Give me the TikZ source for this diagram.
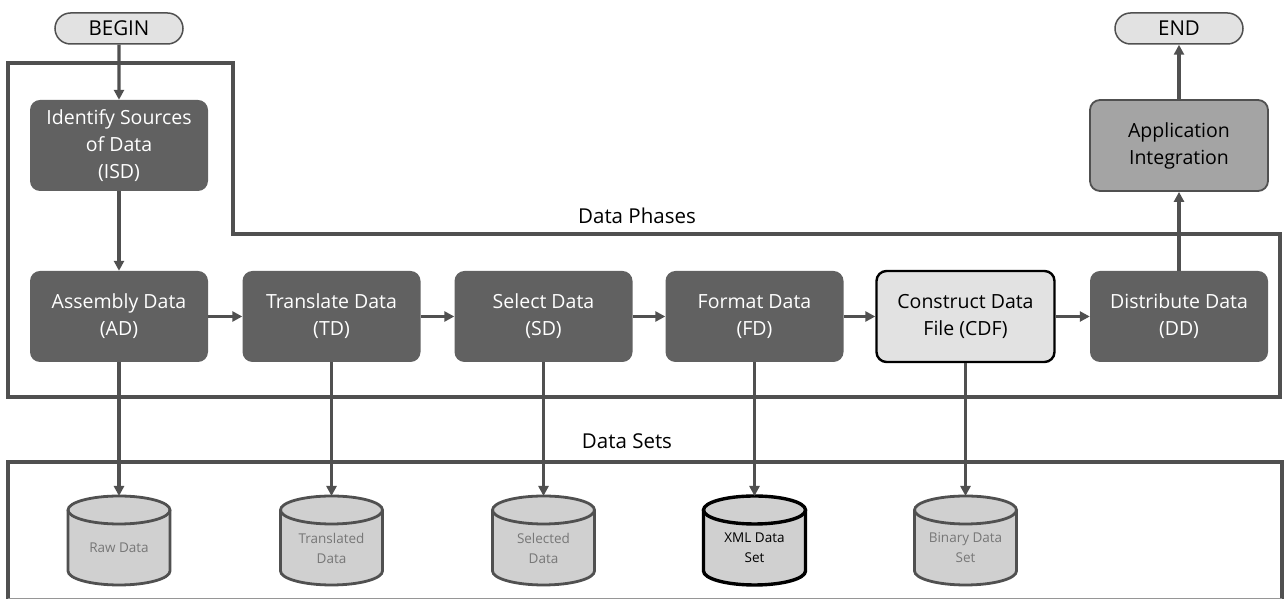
\documentclass[tikz,border=0pt]{standalone}
\usepackage{fontspec}
\setmainfont{Open Sans}
\usetikzlibrary{shapes.misc,arrows.meta}
\definecolor{boxdark}{HTML}{616161}
\definecolor{linegray}{HTML}{505050}
\definecolor{termfill}{HTML}{E2E2E2}
\definecolor{appfill}{HTML}{A4A4A4}
\definecolor{cylfill}{HTML}{D0D0D0}
\definecolor{cyltext}{HTML}{777777}
\tikzset{
  phase/.style={draw=none, fill=boxdark, rounded corners=10pt, minimum width=178pt, minimum height=91pt,
    text=white, align=center, font=\fontsize{19.5}{27}\selectfont, inner sep=0pt},
  lightphase/.style={phase, fill=termfill, draw=black, line width=2.4pt, text=black},
  appbox/.style={phase, fill=appfill, draw=linegray, line width=1.8pt, text=black},
  term/.style={rounded rectangle, draw=linegray, line width=1.5pt, fill=termfill, minimum width=128pt,
    minimum height=31pt, inner sep=0pt, font=\fontsize{20.5}{22}\selectfont},
  flow/.style={draw=linegray, line width=3.2pt, -{Triangle[length=10pt,width=10pt]}},
  region/.style={draw=linegray, line width=4.4pt},
  cyltxt/.style={minimum width=102pt, minimum height=60pt, inner sep=0pt, align=center,
    text=cyltext, font=\fontsize{13.5}{20}\selectfont},
  cylshape/.style={fill=cylfill, draw=linegray, line width=2.8pt},
  label/.style={font=\fontsize{20.5}{22}\selectfont}
}
\newcommand\dbcyl[5]{% name, x, text, shape style, text style
  \fill[cylfill] (#2-51,91) -- (#2-51,30) arc[start angle=180,end angle=360,x radius=51pt,y radius=14pt] -- (#2+51,91) -- cycle;
  \fill[cylfill] (#2,91) ellipse [x radius=51pt, y radius=14pt];
  \draw[#4] (#2,91) ellipse [x radius=51pt, y radius=14pt];
  \draw[#4,fill=none] (#2-51,91) -- (#2-51,30) arc[start angle=180,end angle=360,x radius=51pt,y radius=14pt] -- (#2+51,91);
  \node[cyltxt,#5] (#1) at (#2,53) {#3};
}
\begin{document}
\begin{tikzpicture}[x=1pt,y=1pt]
\useasboundingbox (0,0) rectangle (1285,601);
% regions
\draw[region] (8,538) -- (233,538) -- (233,367) -- (1280,367) -- (1280,204) -- (8,204) -- cycle;
\draw[region] (8,2) -- (8,139) -- (1282,139) -- (1282,2);
\draw[draw=linegray!60, line width=1pt] (8,2) -- (1282,2);
\node[label] (phases) at (637,385) {Data Phases};
\node[label] (sets) at (627,160) {Data Sets};
% terminators
\node[term] (begin) at (119,572.5) {BEGIN};
\node[term] (end) at (1179,572.5) {END};
% phase boxes
\node[phase] (isd) at (119,455.5) {Identify Sources\\of Data\\(ISD)};
\node[appbox] (app) at (1179,455.5) {Application\\Integration};
\node[phase] (ad) at (119,284.5) {Assembly Data\\(AD)};
\node[phase] (td) at (331.5,284.5) {Translate Data\\(TD)};
\node[phase] (sd) at (543.5,284.5) {Select Data\\(SD)};
\node[phase] (fd) at (754.5,284.5) {Format Data\\(FD)};
\node[lightphase] (cdf) at (965.5,284.5) {Construct Data\\File (CDF)};
\node[phase] (dd) at (1179,284.5) {Distribute Data\\(DD)};
% data sets
\dbcyl{raw}{119}{Raw Data}{cylshape}{}
\dbcyl{trans}{331.5}{Translated\\Data}{cylshape}{}
\dbcyl{sel}{543.5}{Selected\\Data}{cylshape}{}
\dbcyl{xml}{754.5}{XML Data\\Set}{cylshape,draw=black,line width=3.4pt}{text=black}
\dbcyl{bin}{965.5}{Binary Data\\Set}{cylshape}{}
\coordinate (rawtop) at (119,105);
\coordinate (transtop) at (331.5,105);
\coordinate (seltop) at (543.5,105);
\coordinate (xmltop) at (754.5,105);
\coordinate (bintop) at (965.5,105);
% connectors
\draw[flow] (begin) -- (isd);
\draw[flow] (isd) -- (ad);
\draw[flow] (ad) -- (td);
\draw[flow] (td) -- (sd);
\draw[flow] (sd) -- (fd);
\draw[flow] (fd) -- (cdf);
\draw[flow] (cdf) -- (dd);
\draw[flow] (dd) -- (app);
\draw[flow] (app) -- (end);
\draw[flow] (ad.south) -- (rawtop);
\draw[flow] (td.south) -- (transtop);
\draw[flow] (sd.south) -- (seltop);
\draw[flow] (fd.south) -- (xmltop);
\draw[flow] (cdf.south) -- (bintop);
\end{tikzpicture}
\end{document}
